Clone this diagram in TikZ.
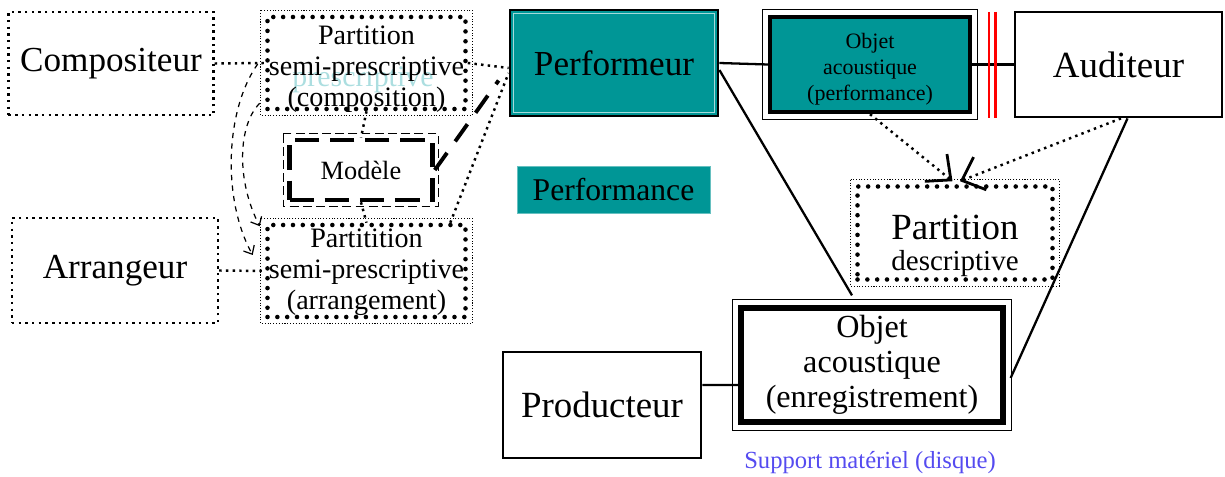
\documentclass[tikz,border=0pt]{standalone}
\usepackage{fontspec}
\setmainfont{Liberation Serif}
\usetikzlibrary{calc,arrows.meta}
\definecolor{tealbox}{RGB}{0,150,150}
\definecolor{ghost}{RGB}{172,222,224}
\definecolor{supportblue}{RGB}{85,75,240}
\tikzset{
  acteur/.style={minimum width=4.1cm, minimum height=2.06cm, inner sep=0pt, align=center, font=\fontsize{20}{22}\selectfont},
  partbox/.style={minimum width=3.96cm, minimum height=1.84cm, inner sep=0pt},
  parttexte/.style={align=center, inner sep=0pt, font=\fontsize{16}{17.6}\selectfont},
  pointille/.style={line width=1.4pt, dash pattern=on 1.4pt off 2.4pt},
  finpoint/.style={line width=0.5pt, dash pattern=on 0.6pt off 1pt},
  grospoint/.style={line width=2.6pt, dash pattern=on 0pt off 5.6pt, line cap=round},
  plein/.style={line width=1.6pt},
  lien/.style={line width=1.3pt},
  barbe/.style={-{Straight Barb[length=11pt,width=20pt,line width=1.6pt]}},
}

\begin{document}
\begin{tikzpicture}
			%%%%% START %%%%%
			\useasboundingbox (0,0) rectangle (24.5,9.52);
			
			\node[acteur, draw, pointille] (compositeur) at (2.22,8.25) {Compositeur};
			\node[acteur, draw, pointille, minimum width=4.12cm, minimum height=2.1cm] (arrangeur) at (2.30,4.11) {Arrangeur};
			
			\node[text=ghost, font=\fontsize{17}{19}\selectfont] (fantome) at (7.26,7.93) {prescriptive};
			\node[partbox, draw, grospoint] (partcomp) at (7.33,8.26) {};
			\draw[finpoint] ([shift={(-0.09,0.09)}]partcomp.north west) rectangle ([shift={(0.09,-0.09)}]partcomp.south east);
			\node[parttexte] (partcomptexte) at ([yshift=-0.12cm]partcomp.center) {Partition\\semi-prescriptive\\(composition)};
			
			\node[draw, line width=2.6pt, dash pattern=on 14pt off 6pt, minimum width=2.86cm, minimum height=1.2cm, font=\fontsize{15}{17}\selectfont] (modele) at (7.22,6.12) {Modèle};
			\draw[line width=0.5pt, dash pattern=on 5pt off 2.5pt] ([shift={(-0.08,0.08)}]modele.north west) rectangle ([shift={(0.08,-0.08)}]modele.south east);
			
			\node[partbox, draw, grospoint] (partarr) at (7.33,4.1) {};
			\draw[finpoint] ([shift={(-0.09,0.09)}]partarr.north west) rectangle ([shift={(0.09,-0.09)}]partarr.south east);
			\node[parttexte] (partarrtexte) at ([yshift=-0.02cm]partarr.center) {Partitition\\semi-prescriptive\\(arrangement)};
			
			\node[acteur, draw, plein, fill=tealbox, minimum width=4.16cm, minimum height=2.12cm] (performeur) at (12.28,8.26) {Performeur};
			\draw[tealbox!35, line width=0.5pt] ([shift={(0.1,-0.1)}]performeur.north west) rectangle ([shift={(-0.1,0.1)}]performeur.south east);
			\node[fill=tealbox, draw=tealbox!60, minimum width=3.86cm, minimum height=0.94cm, inner sep=0pt, font=\fontsize{18}{20}\selectfont] (performance) at (12.27,5.73) {Performance};
			
			\node[draw, line width=2.5pt, fill=tealbox, minimum width=4.0cm, minimum height=1.9cm, inner sep=0pt] (objperf) at (17.4,8.23) {};
			\draw[line width=0.6pt] ([shift={(-0.1,0.1)}]objperf.north west) rectangle ([shift={(0.1,-0.1)}]objperf.south east);
			\node[align=center, inner sep=0pt, font=\fontsize{12.5}{14.7}\selectfont] (objperftexte) at ([yshift=-0.1cm]objperf.center) {Objet\\acoustique\\(performance)};
			
			\node[acteur, draw, plein, minimum width=4.14cm, minimum height=2.1cm, font=\fontsize{21}{23}\selectfont] (auditeur) at (22.37,8.23) {Auditeur};
			
			\node[draw, grospoint, minimum width=3.9cm, minimum height=1.86cm] (partdesc) at (19.1,4.86) {};
			\draw[finpoint] ([shift={(-0.09,0.09)}]partdesc.north west) rectangle ([shift={(0.09,-0.09)}]partdesc.south east);
			\node[align=center, inner sep=0pt, font=\fontsize{16.5}{18}\selectfont] (partdesctexte) at ([yshift=-0.26cm]partdesc.center) {{\fontsize{21}{18}\selectfont Partition}\\descriptive};
			
			\node[draw, line width=3pt, fill=white, minimum width=5.24cm, minimum height=2.28cm, inner sep=0pt, align=center, font=\fontsize{18.3}{20}\selectfont] (objenreg) at (17.44,2.22) {Objet\\acoustique\\(enregistrement)};
			\draw[line width=0.6pt] ([shift={(-0.12,0.12)}]objenreg.north west) rectangle ([shift={(0.12,-0.12)}]objenreg.south east);
			
			\node[acteur, draw, plein, minimum width=3.96cm, minimum height=2.12cm, font=\fontsize{21}{23}\selectfont] (producteur) at (12.04,1.42) {Producteur};
			\node[text=supportblue, font=\fontsize{14}{16}\selectfont] (support) at (17.4,0.26) {Support matériel (disque)};
			
			% liens en pointilles
			\draw[pointille] (compositeur.east) -- (partcomp.west);
			\draw[pointille] (partcomp.east) -- ([yshift=-0.1cm]performeur.west);
			\draw[pointille] (partcomp.south) -- (modele.north);
			\draw[pointille] (modele.south) -- (partarr.north);
			\draw[pointille] ([xshift=-0.35cm]partarr.north east) -- ([yshift=-0.2cm]performeur.west);
			\draw[pointille] (arrangeur.east) -- (partarr.west);
			\draw[line width=2.2pt, dash pattern=on 12pt off 8pt] (modele.east) -- ([shift={(-0.2,-0.35)}]performeur.west);
			
			\draw[dashed, line width=0.7pt, -{Straight Barb[length=4pt,width=7pt]}] ([shift={(-0.15,-0.02)}]partcomp.west) .. controls (4.5,7.32) and (4.44,5.52) .. ([shift={(-0.25,0.32)}]partarr.west);
			\draw[dashed, line width=0.7pt, -{Straight Barb[length=4pt,width=7pt]}] ([shift={(-0.11,0.16)}]partcomp.south west) .. controls (4.76,7.02) and (4.72,5.92) .. ([shift={(-0.11,-0.07)}]partarr.north west);
			
			% liens pleins
			\draw[lien] (performeur.east) -- (objperf.west);
			\draw[lien] (objperf.east) -- (auditeur.west);
			\foreach \x in {19.78,19.91}
				\draw[red, line width=1.2pt] (\x,9.28) -- (\x,7.16);
			\draw[lien] ([yshift=-0.14cm]performeur.east) -- ([shift={(-0.4,0.2)}]objenreg.north);
			\draw[lien] ([xshift=0.18cm]auditeur.south) -- ([shift={(0.1,-0.26)}]objenreg.east);
			\draw[lien] ([yshift=0.4cm]producteur.east) -- ([yshift=-0.4cm]objenreg.west);
			
			\draw[pointille, barbe] (objperf.south) -- ([shift={(-0.05,0.06)}]partdesc.north);
			\draw[pointille, barbe] ([xshift=0.05cm]auditeur.south) -- ([shift={(0.1,0.06)}]partdesc.north);
			
			%%%%% END %%%%%
\end{tikzpicture}
\end{document}
